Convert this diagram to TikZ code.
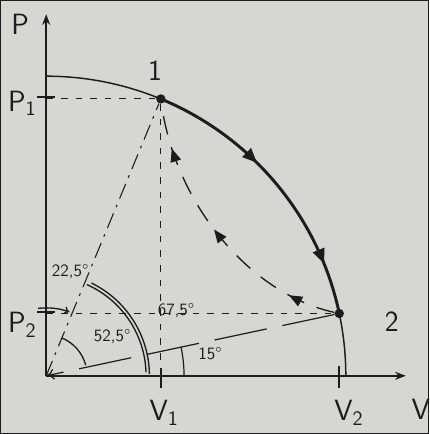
\documentclass[tikz,border=0pt]{standalone}
\usetikzlibrary{arrows.meta,decorations.markings}
\definecolor{paper}{RGB}{214,214,211}
\definecolor{ink}{RGB}{28,28,28}
\begin{document}
\begin{tikzpicture}[x=0.75pt,y=0.75pt,
  every path/.style={draw=ink},
  axisline/.style={line width=1.5pt,-{Stealth[length=8pt,width=6pt]}},
  dotnode/.style={circle,fill=ink,draw=none,inner sep=0pt,minimum size=7pt},
  thinarc/.style={line width=1.1pt},
  mainarc/.style={line width=2.2pt,postaction={decorate},
    decoration={markings,
      mark=at position 0.40 with {\arrow{Triangle[length=11pt,width=9pt]}},
      mark=at position 0.82 with {\arrow{Triangle[length=11pt,width=9pt]}}}},
  retpath/.style={line width=1pt,dash pattern=on 14pt off 10pt,postaction={decorate},
    decoration={markings,
      mark=at position 0.17 with {\arrow{Triangle[length=10pt,width=8pt]}},
      mark=at position 0.52 with {\arrow{Triangle[length=10pt,width=8pt]}},
      mark=at position 0.84 with {\arrow{Triangle[length=10pt,width=8pt]}}}},
  helper/.style={line width=0.8pt,dash pattern=on 5pt off 6pt},
  tick/.style={line width=1.4pt},
  biglabel/.style={text=ink,font=\sffamily\fontsize{22}{24}\selectfont,inner sep=0pt},
  anglabel/.style={text=ink,font=\sffamily\fontsize{13}{15}\selectfont,inner sep=0pt}]
\fill[paper,draw=none] (0,0) rectangle (429,434);
\useasboundingbox (0,0) rectangle (429,434);

% origin and axes
\coordinate (O) at (46,58);
\coordinate (ytop) at (46,420);
\coordinate (xend) at (406,58);
\draw[axisline] (O) -- (ytop);
\draw[axisline] (O) -- (xend);

% states
\node[dotnode] (p1) at (160.8,335.2) {};
\node[dotnode] (p2) at (339.4,120.4) {};
\coordinate (ystart) at (46,358);
\coordinate (xcut) at (346,58);

% circle arcs
\draw[thinarc] (ystart) arc[start angle=90,end angle=67.5,radius=225pt];
\draw[mainarc] (p1.center) arc[start angle=67.5,end angle=12,radius=225pt];
\draw[thinarc] (p2.center) arc[start angle=12,end angle=0,radius=225pt];

% return path 2 -> 1
\draw[retpath] (p2) .. controls (250,140) and (175,230) .. (p1);

% rays from origin
\draw[line width=0.8pt,dash pattern=on 12pt off 5pt on 2pt off 5pt] (O) -- (p1);
\draw[line width=0.9pt,dash pattern=on 40pt off 12pt,-{To[length=6pt,width=8pt]}] (p2) -- (O);

% helper lines
\draw[helper] (O |- p1) -- (p1);
\draw[helper] (O |- p2) -- (p2);
\draw[helper] (p1) -- (p1 |- O);

% ticks
\draw[tick] (37,337) -- (55,337);
\draw[tick] (37,122) -- (55,122);
\draw[tick] (160.8,46) -- (160.8,66);
\draw[tick] (339.4,46) -- (339.4,68);

% angle arcs
\draw[line width=0.9pt] ([shift={(0:103.5pt)}]O) arc[start angle=0,end angle=12,radius=103.5pt];
\draw[line width=1pt] ([shift={(66:75pt)}]O) arc[start angle=66,end angle=2,radius=75pt];
\draw[line width=1pt] ([shift={(64:77.5pt)}]O) arc[start angle=64,end angle=1,radius=77.5pt];
\draw[line width=1pt] ([shift={(67.5:30.75pt)}]O) arc[start angle=67.5,end angle=15,radius=30.75pt];
\draw[line width=1pt,-{To[length=4pt,width=6pt]}] ([shift={(97:51pt)}]O) arc[start angle=97,end angle=70,radius=51pt];

% labels
\node[biglabel] (lP) at (20,410) {P};
\node[biglabel] (lP1) at (22,331) {P\textsubscript{1}};
\node[biglabel] (lP2) at (22,109) {P\textsubscript{2}};
\node[biglabel] (l1) at (155,364) {1};
\node[biglabel] (l2) at (392,112) {2};
\node[biglabel] (lV1) at (164,21) {V\textsubscript{1}};
\node[biglabel] (lV2) at (349,21) {V\textsubscript{2}};
\node[biglabel] (lV) at (421,24) {V};
\node[anglabel] (a225) at (70,162) {22,5°};
\node[anglabel] (a675) at (176,123) {67,5°};
\node[anglabel] (a525) at (112,97) {52,5°};
\node[anglabel] (a15) at (210,80) {15°};
\end{tikzpicture}
\end{document}
